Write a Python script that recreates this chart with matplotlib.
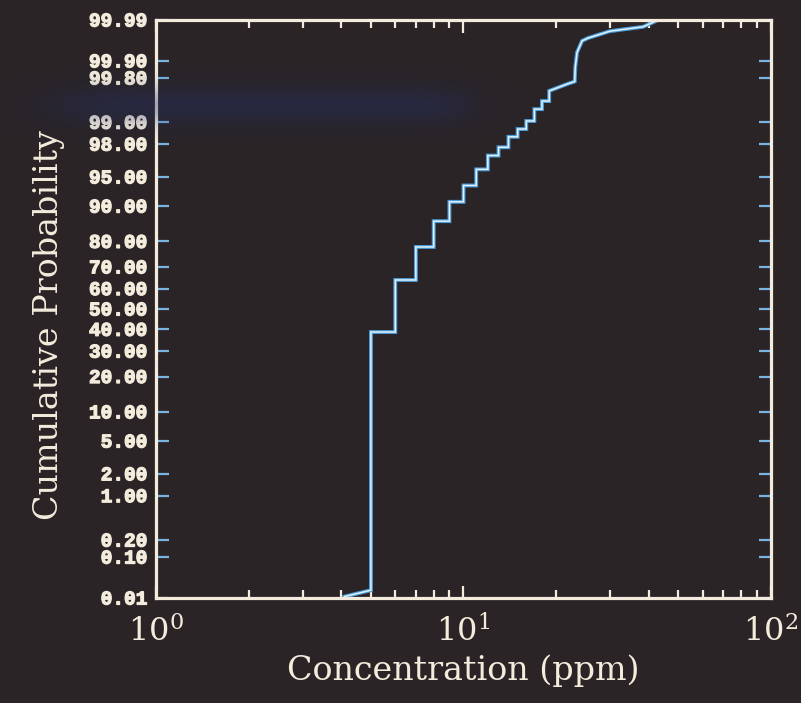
import numpy as np
import matplotlib
matplotlib.use('Agg')
import matplotlib.pyplot as plt
import matplotlib.patheffects as pe
from matplotlib.ticker import NullFormatter
from statistics import NormalDist

# empirical distribution: concentration (ppm) where each step occurs and
# the cumulative probability (%) reached after that step
conc_steps = [5, 6, 7, 8, 9, 10, 11, 12, 13, 14, 15, 16, 17, 18, 19]
cum_prob = [38.7, 64.1, 78.0, 86.3, 90.9, 93.8, 95.9, 97.2, 97.8, 98.4,
            98.75, 99.04, 99.36, 99.52, 99.67]

# tails drawn as plain segments below the first and above the last step
low_tail_conc = [4.1, 5.0]
low_tail_prob = [0.017, 0.023]
high_tail_conc = [21.7, 23.0, 23.1, 23.4, 24.3, 25.4, 29.9, 38.4, 42.0]
high_tail_prob = [99.745, 99.77, 99.87, 99.93, 99.958, 99.963, 99.973,
                  99.978, 99.983]

prob_ticks = [0.1, 0.2, 1, 2, 5, 10, 20, 30, 40, 50, 60, 70, 80, 90, 95,
              98, 99, 99.8, 99.9]
prob_labels = ['0.10', '0.20', '1.00', '2.00', '5.00', '10.00', '20.00',
               '30.00', '40.00', '50.00', '60.00', '70.00', '80.00',
               '90.00', '95.00', '98.00', '99.00', '99.80', '99.90']

nd = NormalDist()


def to_z(p):
    p = np.clip(np.asarray(p, dtype=float) / 100.0, 1e-12, 1 - 1e-12)
    return np.vectorize(nd.inv_cdf, otypes=[float])(p)


def from_z(z):
    return np.vectorize(nd.cdf, otypes=[float])(np.asarray(z, dtype=float)) * 100.0


# build the polyline of the step curve
xs = list(low_tail_conc)
ps = list(low_tail_prob)
prev = low_tail_prob[-1]
for c, p in zip(conc_steps, cum_prob):
    xs += [c, c]
    ps += [prev, p]
    prev = p
xs += high_tail_conc
ps += high_tail_prob

bg = '#2a2427'
fg = '#f3ecdc'
tickblue = '#78b4e0'
plt.rcParams['mathtext.fontset'] = 'dejavuserif'

fig = plt.figure(figsize=(8.01, 7.03), dpi=100, facecolor=bg)
ax = fig.add_axes([0.1948, 0.1494, 0.7677, 0.8222], facecolor=bg)

ax.plot(xs, ps, color='#4b9bd8', lw=2.8, solid_joinstyle='miter')
ax.plot(xs, ps, color='#e2f2fa', lw=1.1, solid_joinstyle='miter')

ax.set_xscale('log')
ax.set_xlim(1, 100)
ax.set_yscale('function', functions=(to_z, from_z))
ylo, yhi = from_z(-3.6), from_z(3.6)
ax.set_ylim(ylo, yhi)

ax.set_yticks([ylo] + prob_ticks + [yhi], ['0.01'] + prob_labels + ['99.99'])
ax.set_yticks([], minor=True)
ax.xaxis.set_minor_formatter(NullFormatter())

for s in ax.spines.values():
    s.set_color(fg)
    s.set_linewidth(2.3)

ax.tick_params(axis='x', which='both', direction='in', top=True, bottom=True,
               color=fg, width=1.6, labelcolor=fg, labelsize=23, pad=13,
               labelfontfamily='DejaVu Serif')
ax.tick_params(axis='x', which='major', length=9)
ax.tick_params(axis='x', which='minor', length=5.5)
ax.tick_params(axis='y', which='major', direction='in', left=True, right=True,
               color=tickblue, width=1.6, length=9, labelcolor=fg, pad=6,
               labelsize=14, labelfontfamily='Liberation Mono')

ax.set_xlabel('Concentration (ppm)', family='DejaVu Serif', fontsize=24, color=fg)
ax.set_ylabel('Cumulative Probability', family='DejaVu Serif', fontsize=24, color=fg)
ax.xaxis.set_label_coords(0.5, -0.098)
ax.yaxis.set_label_coords(-0.148, 0.473)

# faint blue streak across the upper left of the sheet
H, W = 703, 801
yy, xx = np.mgrid[0:H, 0:W]
band = np.exp(-0.5 * ((yy - 105) / 14.0) ** 2)
band *= 1 / (1 + np.exp((xx - 465) / 14.0)) / (1 + np.exp(-(xx - 60) / 22.0))
rgba = np.zeros((H, W, 4))
rgba[..., 0], rgba[..., 1], rgba[..., 2] = 0.14, 0.19, 0.42
rgba[..., 3] = 0.38 * band
over = fig.add_axes([0, 0, 1, 1], zorder=5)
over.imshow(rgba, extent=(0, 1, 0, 1), aspect='auto', interpolation='bilinear')
over.set_axis_off()

# heavier strokes for the probability labels
fig.canvas.draw()
for lab in ax.get_yticklabels():
    lab.set_fontweight('bold')
    lab.set_path_effects([pe.withStroke(linewidth=0.9, foreground=fg)])

fig.savefig('out.png', dpi=100, facecolor=bg)
